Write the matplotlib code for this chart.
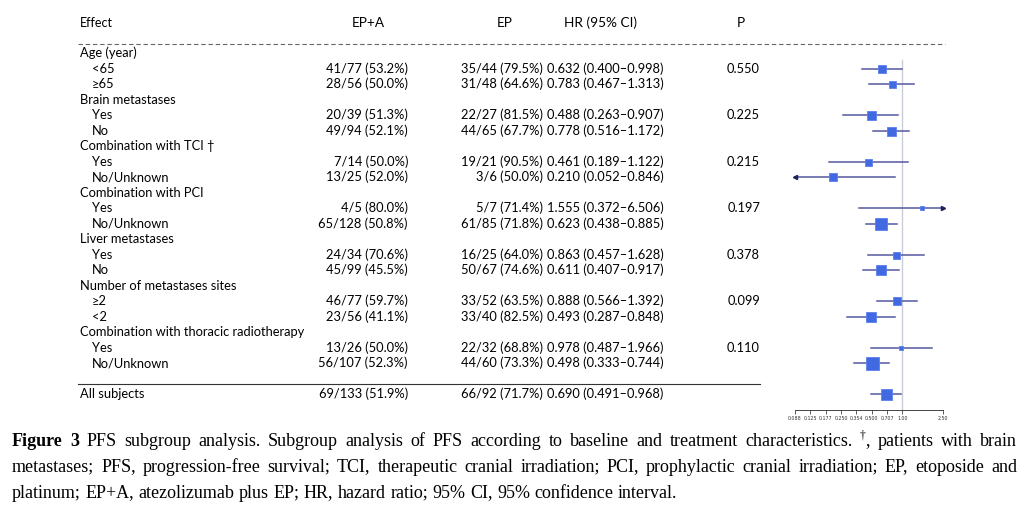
import matplotlib
matplotlib.use("Agg")
import matplotlib.pyplot as plt
import numpy as np

# table rows (row index -> label, is a group header?)
labels = ["Age (year)", "<65", "≥65",
          "Brain metastases", "Yes", "No",
          "Combination with TCI †", "Yes", "No/Unknown",
          "Combination with PCI", "Yes", "No/Unknown",
          "Liver metastases", "Yes", "No",
          "Number of metastases sites", "≥2", "<2",
          "Combination with thoracic radiotherapy", "Yes", "No/Unknown",
          None, "All subjects"]
is_group = [True, False, False, True, False, False, True, False, False,
            True, False, False, True, False, False, True, False, False,
            True, False, False, False, True]

epa_txt = ["", "41/77 (53.2%)", "28/56 (50.0%)", "", "20/39 (51.3%)", "49/94 (52.1%)",
           "", "7/14 (50.0%)", "13/25 (52.0%)", "", "4/5 (80.0%)", "65/128 (50.8%)",
           "", "24/34 (70.6%)", "45/99 (45.5%)", "", "46/77 (59.7%)", "23/56 (41.1%)",
           "", "13/26 (50.0%)", "56/107 (52.3%)", "", "69/133 (51.9%)"]
ep_txt = ["", "35/44 (79.5%)", "31/48 (64.6%)", "", "22/27 (81.5%)", "44/65 (67.7%)",
          "", "19/21 (90.5%)", "3/6 (50.0%)", "", "5/7 (71.4%)", "61/85 (71.8%)",
          "", "16/25 (64.0%)", "50/67 (74.6%)", "", "33/52 (63.5%)", "33/40 (82.5%)",
          "", "22/32 (68.8%)", "44/60 (73.3%)", "", "66/92 (71.7%)"]
p_txt = ["", "0.550", "", "", "0.225", "", "", "0.215", "", "", "0.197", "",
         "", "0.378", "", "", "0.099", "", "", "0.110", "", "", ""]

# hazard ratios with 95% CI (nan = no estimate on that row)
hr = [np.nan, 0.632, 0.783, np.nan, 0.488, 0.778, np.nan, 0.461, 0.210, np.nan, 1.555, 0.623,
      np.nan, 0.863, 0.611, np.nan, 0.888, 0.493, np.nan, 0.978, 0.498, np.nan, 0.690]
lo = [np.nan, 0.400, 0.467, np.nan, 0.263, 0.516, np.nan, 0.189, 0.052, np.nan, 0.372, 0.438,
      np.nan, 0.457, 0.407, np.nan, 0.566, 0.287, np.nan, 0.487, 0.333, np.nan, 0.491]
hi = [np.nan, 0.998, 1.313, np.nan, 0.907, 1.172, np.nan, 1.122, 0.846, np.nan, 6.506, 0.885,
      np.nan, 1.628, 0.917, np.nan, 1.392, 0.848, np.nan, 1.966, 0.744, np.nan, 0.968]
# box weights (side length, px)
box = [0, 8, 7, 0, 9, 9, 0, 7, 8, 0, 4, 12, 0, 7, 10, 0, 8, 10, 0, 5, 13, 0, 11]

tick_vals = [2 ** -3.5, 2 ** -3, 2 ** -2.5, 0.25, 2 ** -1.5, 0.5, 2 ** -0.5, 1.0, 2.5]
tick_labels = ["0.088", "0.125", "0.177", "0.250", "0.354", "0.500", "0.707", "1.00", "2.50"]

W, H = 1028, 511
ROW0, STEP = 53, 15.5
def row(px):
    return (px - ROW0) / STEP

fig = plt.figure(figsize=(W / 100, H / 100), dpi=100)
ax = fig.add_axes([0, 0, 1, 1])
ax.set_xlim(0, W)
ax.set_ylim(row(H), row(0))
ax.axis("off")

tfont = "Lato"
fs = 9.3
ax.text(80, row(22.5), "Effect", fontsize=9.0, family=tfont, va="center")
for x, t in [(368, "EP+A"), (505, "EP"), (601, "HR (95% CI)"), (741, "P")]:
    ax.text(x, row(22.5), t, fontsize=9.8, family=tfont, va="center", ha="center")

for i, lab in enumerate(labels):
    if lab is None:
        continue
    ax.text(80 if is_group[i] else 92, i, lab, fontsize=fs, family=tfont, va="center")
    ax.text(408, i, epa_txt[i], fontsize=fs, family=tfont, va="center", ha="right")
    ax.text(543, i, ep_txt[i], fontsize=fs, family=tfont, va="center", ha="right")
    if not np.isnan(hr[i]):
        ax.text(547, i, f"{hr[i]:.3f} ({lo[i]:.3f}–{hi[i]:.3f})", fontsize=fs,
                family=tfont, va="center")
    ax.text(760, i, p_txt[i], fontsize=fs, family=tfont, va="center", ha="right")

ax.plot([78, 945], [row(44), row(44)], color="#666666", lw=0.8, ls=(0, (4, 2.5)))
ax.plot([78, 760], [row(384), row(384)], color="#333333", lw=0.8)

# forest panel
x0, x1 = 795, 943
fx = fig.add_axes([x0 / W, 0, (x1 - x0) / W, 1])
fx.set_xscale("log")
fx.set_xlim(tick_vals[0], 2.5)
fx.set_ylim(row(H), row(0))
fx.patch.set_alpha(0)
for s in ["top", "left", "right"]:
    fx.spines[s].set_visible(False)
fx.spines["bottom"].set_position(("data", row(410)))
fx.spines["bottom"].set_color("#444444")
fx.spines["bottom"].set_linewidth(0.7)
fx.set_yticks([])
fx.set_xticks(tick_vals)
fx.set_xticklabels(tick_labels)
fx.xaxis.set_minor_locator(matplotlib.ticker.NullLocator())
fx.tick_params(axis="x", labelsize=3.4, length=3, width=0.6, pad=1,
               colors="#444444", labelcolor="#333333")
fx.plot([1, 1], [row(60), row(410)], color="#c9ccd8", lw=1.0, zorder=1)

xmin, xmax = tick_vals[0], 2.5
line_c = "#55599f"
for i in range(len(hr)):
    if np.isnan(hr[i]):
        continue
    a, b = max(lo[i], xmin), min(hi[i], xmax)
    fx.plot([a, b], [i, i], color=line_c, lw=1.1, zorder=2, clip_on=False)
    if lo[i] < xmin:
        fx.plot(a, i, marker="<", ms=3, color="#1f2260", clip_on=False, zorder=3)
    if hi[i] > xmax:
        fx.plot(b, i, marker=">", ms=3, color="#1f2260", clip_on=False, zorder=3)
    fx.plot(hr[i], i, marker="s", ms=box[i] * 0.72, color="#4169e1",
            mec="#5b80ee", mew=0.6, zorder=4, clip_on=False)

# caption, justified like the journal layout
cap = [
    ([("Figure", "bold"), ("3", "bold")] +
     [(w, "normal") for w in "PFS subgroup analysis. Subgroup analysis of PFS according to "
      "baseline and treatment characteristics.".split()] +
     [("†,", "dagger")] + [(w, "normal") for w in "patients with brain".split()], True),
    ([(w, "normal") for w in "metastases; PFS, progression-free survival; TCI, therapeutic "
      "cranial irradiation; PCI, prophylactic cranial irradiation; EP, etoposide and".split()], True),
    ([(w, "normal") for w in "platinum; EP+A, atezolizumab plus EP; HR, hazard ratio; "
      "95% CI, 95% confidence interval.".split()], False),
]
cap_y = [441, 467, 493]
cfs = 12.95
cfont = "Liberation Serif"
r = fig.canvas.get_renderer()

def put(x, y, s, weight="normal", size=cfs, dy=0.0):
    return fig.text(x / W, 1 - (y + dy) / H, s, fontsize=size, family=cfont,
                    weight=weight, va="center", ha="left")

def width(t):
    return t.get_window_extent(renderer=r).width

for (words, just), y in zip(cap, cap_y):
    # measure words
    items = []
    for w, kind in words:
        if kind == "dagger":
            t1 = put(0, y, "†", size=cfs * 0.65, dy=-5)
            t2 = put(0, y, ",")
            items.append(([t1, t2], width(t1) + width(t2), [0, width(t1)]))
        else:
            t = put(0, y, w, weight=kind)
            items.append(([t], width(t), [0]))
    total = sum(it[1] for it in items)
    sp = put(0, y, "a a")
    space = width(sp) - width(put(0, y, "aa"))
    for t in fig.texts[-2:]:
        t.remove()
    gap = (1017 - 12 - total) / (len(items) - 1) if just else space
    x = 12
    for ts, wd, offs in items:
        for t, o in zip(ts, offs):
            t.set_x((x + o) / W)
        x += wd + gap

fig.savefig("out.png", dpi=100)
